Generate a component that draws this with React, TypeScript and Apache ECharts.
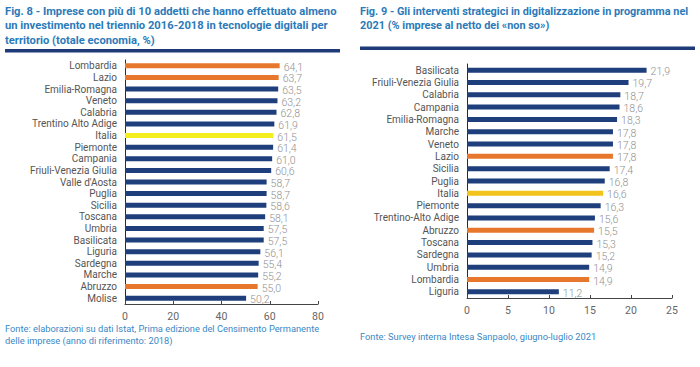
import React, { useEffect, useRef } from "react";
import * as echarts from "echarts";

const leftCategories = ["Lombardia", "Lazio", "Emilia-Romagna", "Veneto", "Calabria", "Trentino Alto Adige", "Italia", "Piemonte", "Campania", "Friuli-Venezia Giulia", "Valle d'Aosta", "Puglia", "Sicilia", "Toscana", "Umbria", "Basilicata", "Liguria", "Sardegna", "Marche", "Abruzzo", "Molise"];
const leftValues = [64.1, 63.7, 63.5, 63.2, 62.8, 61.9, 61.5, 61.4, 61.0, 60.6, 58.7, 58.7, 58.6, 58.1, 57.5, 57.5, 56.1, 55.4, 55.2, 55.0, 50.2];
const leftOrange = ["Lombardia", "Lazio", "Abruzzo"];
const leftYellow = ["Italia"];
const leftTicks = { min: 0, max: 80, interval: 20 };

const rightCategories = ["Basilicata", "Friuli-Venezia Giulia", "Calabria", "Campania", "Emilia-Romagna", "Marche", "Veneto", "Lazio", "Sicilia", "Puglia", "Italia", "Piemonte", "Trentino-Alto Adige", "Abruzzo", "Toscana", "Sardegna", "Umbria", "Lombardia", "Liguria"];
const rightValues = [21.9, 19.7, 18.7, 18.6, 18.3, 17.8, 17.8, 17.8, 17.4, 16.8, 16.6, 16.3, 15.6, 15.5, 15.3, 15.2, 14.9, 14.9, 11.2];
const rightOrange = ["Lazio", "Abruzzo", "Lombardia"];
const rightYellow = ["Italia"];
const rightTicks = { min: 0, max: 25, interval: 5 };

const leftTitle = "Fig. 8 - Imprese con più di 10 addetti che hanno effettuato almeno\nun investimento nel triennio 2016-2018 in tecnologie digitali per\nterritorio (totale economia, %)";
const rightTitle = "Fig. 9 - Gli interventi strategici in digitalizzazione in programma nel\n2021 (% imprese al netto dei «non so»)";
const leftSource = "Fonte: elaborazioni su dati Istat, Prima edizione del Censimento Permanente\ndelle imprese (anno di riferimento: 2018)";
const rightSource = "Fonte: Survey interna Intesa Sanpaolo, giugno-luglio 2021";

const NAVY = "#1f3e7c";
const ORANGE = "#e8772e";
const YELLOW_L = "#f4ee1e";
const YELLOW_R = "#f1c31b";
const TITLE_BLUE = "#2b7ab9";
const SOURCE_BLUE = "#3a88c6";
const FONT = "Roboto, 'Open Sans', sans-serif";

function colored(cats: string[], vals: number[], orange: string[], yellow: string[], yColor: string) {
  return vals.map((v, i) => ({
    value: v,
    itemStyle: {
      color: orange.includes(cats[i]) ? ORANGE : yellow.includes(cats[i]) ? yColor : NAVY,
    },
  }));
}

export default function App() {
  const ref = useRef<HTMLDivElement>(null);
  useEffect(() => {
    if (!ref.current) return;
    const chart = echarts.init(ref.current, null, { renderer: "svg" });
    const labelCfg = {
      show: true,
      position: "right",
      distance: 4,
      offset: [0, 1.5],
      color: "#8f8f8f",
      fontSize: 10.5,
      lineHeight: 10,
      fontFamily: FONT,
      fontWeight: 300,
      formatter: (p: any) => Number(p.value).toFixed(1).replace(".", ","),
    };
    const catAxisBase = {
      type: "category",
      inverse: true,
      axisLine: { show: true, lineStyle: { color: "#2a2a2a", width: 1 } },
      axisTick: { show: false },
      axisLabel: { color: "#555", fontSize: 10, lineHeight: 10, fontFamily: FONT, margin: 8, interval: 0 },
    };
    const valAxisBase = {
      type: "value",
      splitLine: { show: false },
      axisLine: { show: true, lineStyle: { color: "#444", width: 1 } },
      axisTick: { show: true, inside: true, length: 3, lineStyle: { color: "#444" } },
      axisLabel: { color: "#666", fontSize: 10.5, fontFamily: FONT, margin: 7 },
    };
    chart.setOption({
      animation: false,
      grid: [
        { left: 125, right: 382, top: 60, bottom: 63 },
        { left: 467, right: 28, top: 64, bottom: 69 },
      ],
      xAxis: [
        { ...valAxisBase, gridIndex: 0, ...leftTicks },
        { ...valAxisBase, gridIndex: 1, ...rightTicks },
      ],
      yAxis: [
        { ...catAxisBase, gridIndex: 0, data: leftCategories },
        { ...catAxisBase, gridIndex: 1, data: rightCategories },
      ],
      series: [
        {
          type: "bar",
          xAxisIndex: 0,
          yAxisIndex: 0,
          barWidth: 5,
          data: colored(leftCategories, leftValues, leftOrange, leftYellow, YELLOW_L),
          label: labelCfg,
        },
        {
          type: "bar",
          xAxisIndex: 1,
          yAxisIndex: 1,
          barWidth: 5,
          data: colored(rightCategories, rightValues, rightOrange, rightYellow, YELLOW_R),
          label: labelCfg,
        },
      ],
      graphic: [
        {
          type: "text",
          left: 5,
          top: 4,
          style: { text: leftTitle, fill: TITLE_BLUE, font: `bold 11.2px ${FONT}`, lineHeight: 14.5 },
        },
        {
          type: "text",
          left: 360,
          top: 4,
          style: { text: rightTitle, fill: TITLE_BLUE, font: `bold 10.9px ${FONT}`, lineHeight: 14.5 },
        },
        { type: "rect", shape: { x: 5, y: 49, width: 335, height: 3.5 }, style: { fill: "#1f3a78" } },
        { type: "rect", shape: { x: 360, y: 46.5, width: 335, height: 3.5 }, style: { fill: "#1f3a78" } },
        {
          type: "text",
          left: 5,
          top: 323,
          style: { text: leftSource, fill: SOURCE_BLUE, font: `9.3px ${FONT}`, lineHeight: 11.5 },
        },
        {
          type: "text",
          left: 360,
          top: 331,
          style: { text: rightSource, fill: SOURCE_BLUE, font: `9.3px ${FONT}`, lineHeight: 11.5 },
        },
      ],
    });
    return () => chart.dispose();
  }, []);
  return <div ref={ref} style={{ position: "absolute", left: 0, top: 0, width: 700, height: 367, background: "#fff" }} />;
}
